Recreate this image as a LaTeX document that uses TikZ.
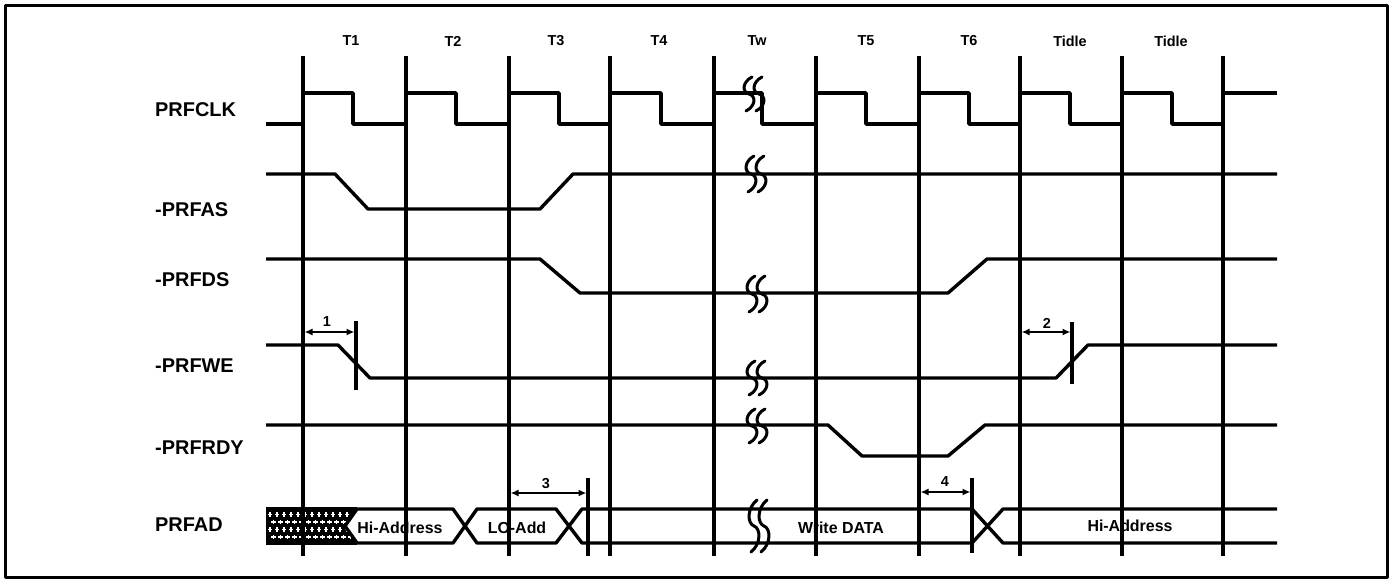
\documentclass[tikz,border=0pt]{standalone}
\usepackage{fontspec}
\setmainfont{Liberation Sans}
\usetikzlibrary{arrows.meta}
\tikzset{
  wave/.style={line width=3.4bp},
  clkedge/.style={line width=3.4bp},
  brk/.style={line width=3bp,line cap=round},
  dimline/.style={line width=2bp,{Latex[length=8bp,width=7bp]}-{Latex[length=8bp,width=7bp]}},
  sname/.style={anchor=west,inner sep=0pt,font=\fontsize{20}{20}\selectfont\bfseries},
  tname/.style={inner sep=0pt,font=\fontsize{14.5}{14.5}\selectfont\bfseries},
  busname/.style={inner sep=0pt,font=\fontsize{16}{16}\selectfont\bfseries},
}
% wavy break mark: x, y, half height
\newcommand{\sigbreak}[3]{%
  \foreach \d in {-5,5}{%
    \draw[brk] ({#1+\d+3},{#2-#3}) .. controls ({#1+\d-7},{#2-0.7*#3}) and ({#1+\d-7},{#2-0.1*#3}) .. ({#1+\d},{#2})
      .. controls ({#1+\d+7},{#2+0.1*#3}) and ({#1+\d+7},{#2+0.7*#3}) .. ({#1+\d-3},{#2+#3});
  }}
\begin{document}
\begin{tikzpicture}[x=1bp,y=-1bp,line join=bevel]
\useasboundingbox (0,0) rectangle (1392,581);
\draw[line width=3bp] (5,6) rectangle (1387,577);
%%
\node (1) at (155,110) [sname] {PRFCLK};
\node (2) at (155,210) [sname] {-PRFAS};
\node (3) at (155,280) [sname] {-PRFDS};
\node (4) at (155,366) [sname] {-PRFWE};
\node (5) at (155,448) [sname] {-PRFRDY};
\node (6) at (155,525) [sname] {PRFAD};
\foreach \x/\t [count=\i] in {351/T1,453/T2,556/T3,659/T4,757/Tw,866/T5,969/T6,1070/Tidle,1171/Tidle}
  \node (t\i) at (\x,41) [tname] {\t};
%
\draw[wave] (266,124) -- (303,124) -- (303,93) -- (353,93) -- (353,124) -- (406,124) -- (406,93) -- (456,93) -- (456,124)
  -- (509,124) -- (509,93) -- (559,93) -- (559,124) -- (610,124) -- (610,93) -- (661,93) -- (661,124) -- (714,124)
  -- (714,93) -- (762,93) -- (762,124) -- (816,124) -- (816,93) -- (866,93) -- (866,124) -- (919,124) -- (919,93)
  -- (969,93) -- (969,124) -- (1020,124) -- (1020,93) -- (1070,93) -- (1070,124) -- (1122,124) -- (1122,93)
  -- (1172,93) -- (1172,124) -- (1223,124) -- (1223,93) -- (1277,93);
\draw[wave] (266,174) -- (335,174) -- (368,209) -- (540,209) -- (573,174) -- (1277,174);
\draw[wave] (266,259) -- (540,259) -- (580,293) -- (948,293) -- (987,259) -- (1277,259);
\draw[wave] (266,345) -- (338,345) -- (370,378) -- (1056,378) -- (1088,345) -- (1277,345);
\draw[wave] (266,425) -- (828,425) -- (862,456) -- (948,456) -- (985,425) -- (1277,425);
%
\begin{scope}
  \clip (266,509) -- (357,509) -- (345,526) -- (357,543) -- (266,543) -- cycle;
  \fill (262,505) rectangle (360,547);
  \foreach \r in {0,...,3}
    \foreach \c in {0,...,13}
      \draw[white,line width=1.3bp] ({270+7*\c+3.5*mod(\r,2)-2.2},{514.5+7.5*\r}) -- ++(4.4,0)
        ({270+7*\c+3.5*mod(\r,2)},{512.3+7.5*\r}) -- ++(0,4.4);
\end{scope}
\draw[wave] (266,509) -- (357,509) (266,543) -- (357,543);
\draw[wave] (345,526) -- (357,509) -- (453,509) -- (477,543) -- (556,543) -- (582,509) -- (972,509) -- (1003,543) -- (1277,543);
\draw[wave] (345,526) -- (357,543) -- (453,543) -- (477,509) -- (556,509) -- (582,543) -- (972,543) -- (1003,509) -- (1277,509);
\node (a1) at (400,528) [busname] {Hi-Address};
\node (a2) at (517,528) [busname] {LO-Add};
\node (a3) at (841,528) [busname] {Write DATA};
\node (a4) at (1130,526) [busname] {Hi-Address};
%
\foreach \x in {303,406,509,610,714,816,919,1020,1122,1223}
  \draw[clkedge] (\x,56) -- (\x,556);
%
\draw[wave] (356,321) -- (356,390);
\draw[wave] (1072,322) -- (1072,384);
\draw[wave] (588,478) -- (588,556);
\draw[wave] (972,478) -- (972,553);
\coordinate (m1a) at (304.5,332); \coordinate (m1b) at (354.5,332);
\coordinate (m2a) at (1021.5,332); \coordinate (m2b) at (1070.5,332);
\coordinate (m3a) at (510.5,493); \coordinate (m3b) at (586.5,493);
\coordinate (m4a) at (920.5,492); \coordinate (m4b) at (970.5,492);
\draw[dimline] (m1a) -- (m1b);
\draw[dimline] (m2a) -- (m2b);
\draw[dimline] (m3a) -- (m3b);
\draw[dimline] (m4a) -- (m4b);
\node (d1) at (327,322) [tname] {1};
\node (d2) at (1047,323) [tname] {2};
\node (d3) at (546,484) [tname] {3};
\node (d4) at (945,482) [tname] {4};
%
\sigbreak{754}{94}{17}
\sigbreak{756}{174}{18}
\sigbreak{757}{294}{18}
\sigbreak{757}{378}{17}
\sigbreak{757}{426}{17}
\sigbreak{759}{526}{26}
%
\end{tikzpicture}
\end{document}
